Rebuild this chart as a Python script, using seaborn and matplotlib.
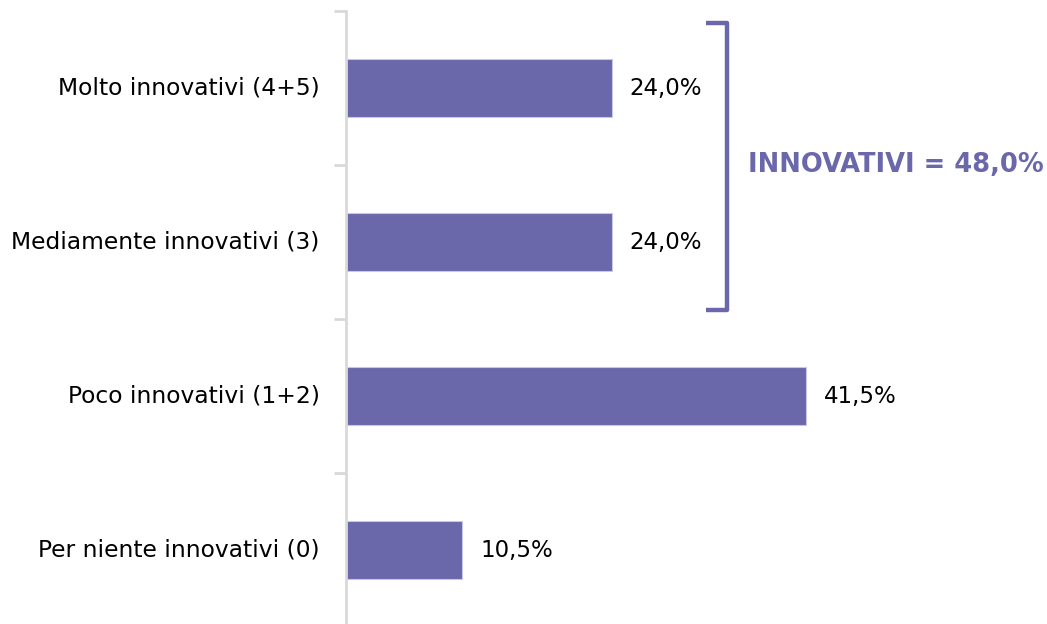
import seaborn as sns
import matplotlib.pyplot as plt
import pandas as pd

# data
categories = [
    "Molto innovativi (4+5)",
    "Mediamente innovativi (3)",
    "Poco innovativi (1+2)",
    "Per niente innovativi (0)",
]
values = [24.0, 24.0, 41.5, 10.5]
group_label = "INNOVATIVI = 48,0%"

df = pd.DataFrame({"Categoria": categories, "Valore": values})

purple = "#6A67AB"
axis_grey = "#D9D9D9"

sns.set_style("white")
plt.rcParams["font.family"] = ["DejaVu Sans"]

fig = plt.figure(figsize=(10.47, 6.24), dpi=100)
# axes placed so the plot area lines up with the reference
ax = fig.add_axes([346 / 1047, -3 / 624, 665 / 1047, 616 / 624])

sns.barplot(
    data=df, x="Valore", y="Categoria", color=purple, saturation=1,
    width=0.375, edgecolor="#C9C7E6", linewidth=0.8, ax=ax,
)
ax.set_xlim(0, 60)
ax.set_ylim(3.5, -0.5)

# value labels with decimal comma
for i, v in enumerate(values):
    txt = f"{v:.1f}".replace(".", ",") + "%"
    ax.text(v + 1.6, i, txt, va="center", ha="left", fontsize=16.5, color="#000000")

# bracket around the first two categories
bx, bx0 = 34.4, 32.5
y_top, y_bot = -0.42, 1.44
ax.plot([bx0, bx, bx, bx0], [y_top, y_top, y_bot, y_bot],
        color=purple, lw=3.2, solid_joinstyle="round", solid_capstyle="butt",
        clip_on=False)
ax.text(36.3, 0.5, group_label, ha="left", va="center", fontsize=18.5,
        fontweight="bold", color=purple, clip_on=False)

# axes styling: only the left spine, light grey, ticks between categories
for s in ["top", "right", "bottom"]:
    ax.spines[s].set_visible(False)
ax.spines["left"].set_color(axis_grey)
ax.spines["left"].set_linewidth(2)
ax.set_xticks([])
ax.set_xlabel("")
ax.set_ylabel("")
ax.set_yticks(range(len(categories)))
ax.set_yticklabels(categories, fontsize=16.8, color="#000000", va="center")
ax.tick_params(axis="y", length=0, pad=19)
ax.set_yticks([-0.5, 0.5, 1.5, 2.5, 3.5], minor=True)
ax.tick_params(axis="y", which="minor", length=9, width=2, color=axis_grey, left=True)

fig.savefig("out.png", dpi=100)
plt.close(fig)
